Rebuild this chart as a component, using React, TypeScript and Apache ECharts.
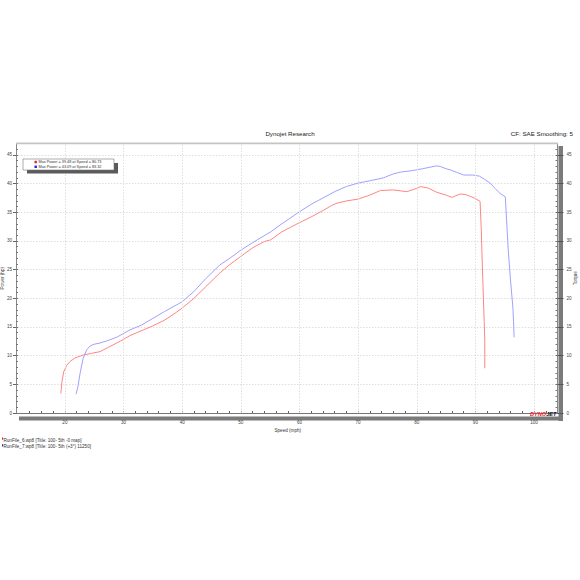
import React, { useEffect, useRef } from "react";
import * as echarts from "echarts";

// ---- Data ----
const redSpeed = [19.3, 19.5, 19.8, 20.3, 20.9, 21.7, 23.1, 24.5, 26.0, 27.5, 29.4, 31.1, 33.4, 35.0, 37.0, 38.5, 40.0, 42.0, 44.0, 46.4, 48.0, 50.0, 52.0, 54.0, 55.1, 57.0, 58.5, 60.0, 62.0, 64.0, 65.5, 66.4, 68.1, 70.0, 72.0, 73.8, 76.0, 78.3, 79.5, 80.7, 82.0, 83.4, 85.0, 86.0, 87.4, 88.3, 89.1, 90.0, 90.8, 91.0, 91.1, 91.3, 91.5, 91.6, 91.6];
const redPower = [3.4, 5.5, 7.2, 8.3, 9.0, 9.6, 10.1, 10.4, 10.7, 11.5, 12.5, 13.5, 14.5, 15.2, 16.2, 17.2, 18.3, 20.0, 22.0, 24.4, 25.8, 27.3, 28.8, 29.9, 30.2, 31.6, 32.4, 33.2, 34.2, 35.3, 36.2, 36.6, 37.0, 37.3, 38.0, 38.8, 38.9, 38.6, 39.0, 39.48, 39.2, 38.5, 38.0, 37.6, 38.2, 38.1, 37.8, 37.4, 36.9, 32.0, 28.4, 22.0, 16.0, 12.7, 7.8];

const blueSpeed = [21.9, 22.2, 22.6, 23.1, 23.7, 24.3, 25.0, 26.0, 27.5, 29.0, 31.1, 33.0, 35.0, 37.0, 40.0, 42.0, 44.0, 46.4, 48.0, 50.0, 52.0, 55.1, 57.0, 60.0, 62.0, 64.0, 66.0, 68.0, 70.0, 72.0, 74.3, 76.0, 77.2, 79.4, 81.0, 83.3, 84.0, 85.0, 85.7, 87.0, 88.0, 89.5, 90.7, 91.5, 92.5, 93.5, 94.2, 95.1, 95.3, 95.6, 96.0, 96.4, 96.5, 96.6];
const bluePower = [3.3, 4.5, 7.0, 9.5, 11.0, 11.7, 12.0, 12.2, 12.7, 13.3, 14.5, 15.3, 16.5, 17.7, 19.4, 21.2, 23.4, 25.8, 26.9, 28.4, 29.7, 31.6, 33.0, 35.1, 36.4, 37.5, 38.6, 39.5, 40.1, 40.5, 41.0, 41.7, 42.0, 42.3, 42.6, 43.09, 43.0, 42.6, 42.4, 41.9, 41.5, 41.5, 41.3, 40.8, 40.1, 39.0, 38.3, 37.7, 34.0, 28.4, 23.0, 18.3, 16.0, 13.2];

const xGridValues = [20, 30, 40, 50, 60, 70, 80, 90, 100];
const legendTexts = ["Max Power = 39.48 at Speed = 80.73", "Max Power = 43.09 at Speed = 83.32"];
const runFiles = ["RunFile_6.wp8 [Title: 100- 5th -0 map]", "RunFile_7.wp8 [Title: 100- 5th (+3°) 11250]"];
const titleText = "Dynojet Research";
const cfText = "CF: SAE Smoothing: 5";

const FONT = "Liberation Sans, Arial, sans-serif";
const RED = "#ff8585";
const BLUE = "#a0a0ff";
const GRID = "#dedede";

function buildOption() {
  const red = redSpeed.map((s, i) => [s, redPower[i]]);
  const blue = blueSpeed.map((s, i) => [s, bluePower[i]]);
  const yCommon = { type: "value", min: 0, max: 47 };
  return {
    animation: false,
    backgroundColor: "#ffffff",
    grid: { left: 18, right: 22.5, top: 143.5, bottom: 167, containLabel: false, outerBoundsMode: "none" },
    xAxis: {
      type: "value",
      min: 12,
      max: 104,
      interval: 2,
      offset: 2,
      name: "Speed (mph)",
      nameLocation: "middle",
      nameGap: 13,
      nameMoveOverlap: false,
      nameTextStyle: { fontSize: 4.6, color: "#333", fontFamily: FONT },
      axisLine: { show: true, lineStyle: { color: "#777", width: 1 } },
      axisTick: { show: true, inside: true, length: 2, lineStyle: { color: "#666" } },
      axisLabel: {
        fontSize: 4.6,
        color: "#444",
        fontFamily: FONT,
        margin: 5,
        showMinLabel: false,
        showMaxLabel: false,
        formatter: (v: number) => (v % 10 === 0 ? String(v) : ""),
      },
      splitLine: { show: false },
    },
    yAxis: [
      {
        ...yCommon,
        position: "left",
        interval: 5,
        offset: 2,
        name: "Power (hp)",
        nameLocation: "middle",
        nameGap: 11,
        nameMoveOverlap: false,
        nameTextStyle: { fontSize: 4.6, color: "#333", fontFamily: FONT },
        axisLine: { show: true, lineStyle: { color: "#888", width: 1 } },
        axisTick: { show: true, length: 3, lineStyle: { color: "#666" } },
        axisLabel: { fontSize: 4.6, color: "#444", fontFamily: FONT, margin: 4, showMaxLabel: false },
        splitLine: { show: true, lineStyle: { type: [1.5, 1.5], color: GRID, width: 1 } },
      },
      {
        ...yCommon,
        position: "right",
        interval: 5,
        name: "Torque",
        nameLocation: "middle",
        nameGap: 15.5,
        nameMoveOverlap: false,
        nameTextStyle: { fontSize: 4.6, color: "#333", fontFamily: FONT },
        axisLine: { show: true, lineStyle: { color: "#888", width: 1 } },
        axisTick: { show: true, length: 6, lineStyle: { color: "#555" } },
        axisLabel: { fontSize: 4.6, color: "#444", fontFamily: FONT, margin: 9, showMaxLabel: false },
        splitLine: { show: false },
      },
      {
        ...yCommon,
        position: "left",
        interval: 1,
        offset: 2,
        axisLine: { show: false },
        axisTick: { show: true, inside: true, length: 2, lineStyle: { color: "#777" } },
        axisLabel: { show: false },
        splitLine: { show: false },
      },
      {
        ...yCommon,
        position: "right",
        interval: 1,
        axisLine: { show: false },
        axisTick: { show: true, inside: true, length: 2, lineStyle: { color: "#777" } },
        axisLabel: { show: false },
        splitLine: { show: false },
      },
    ],
    series: [
      {
        type: "line",
        yAxisIndex: 0,
        data: [[20, 0]],
        symbol: "none",
        lineStyle: { width: 0, opacity: 0 },
        silent: true,
        z: 1,
        markLine: {
          silent: true,
          symbol: ["none", "none"],
          label: { show: false },
          lineStyle: { type: [1.5, 1.5], color: GRID, width: 1 },
          data: xGridValues.map((v) => ({ xAxis: v })),
        },
      },
      {
        type: "line",
        name: "RunFile_6",
        yAxisIndex: 0,
        data: red,
        symbol: "none",
        lineStyle: { color: RED, width: 1 },
        z: 3,
      },
      {
        type: "line",
        name: "RunFile_7",
        yAxisIndex: 0,
        data: blue,
        symbol: "none",
        lineStyle: { color: BLUE, width: 1 },
        z: 3,
      },
    ],
    graphic: [
      // top border
      { type: "rect", z: 5, shape: { x: 16, y: 142.6, width: 542, height: 1.6 }, style: { fill: "#c4c4c4" } },
      // right gray bar
      { type: "rect", z: 0, shape: { x: 558.5, y: 146, width: 4.5, height: 275 }, style: { fill: "#7b7b7b" } },
      // bottom gray bar
      { type: "rect", z: 0, shape: { x: 19, y: 416.6, width: 544, height: 4 }, style: { fill: "#7b7b7b" } },
      // title texts
      { type: "text", x: 290, y: 133, style: { text: titleText, fontSize: 6.2, fill: "#222", fontFamily: FONT, align: "center", verticalAlign: "middle" } },
      { type: "text", x: 573, y: 133, style: { text: cfText, fontSize: 6.2, fill: "#222", fontFamily: FONT, align: "right", verticalAlign: "middle" } },
      // legend box
      { type: "rect", z: 6, shape: { x: 27, y: 163, width: 91, height: 10.5 }, style: { fill: "#5a5a5a" } },
      { type: "rect", z: 7, shape: { x: 23, y: 159, width: 91, height: 11 }, style: { fill: "#ffffff", stroke: "#777", lineWidth: 0.6 } },
      { type: "rect", z: 8, shape: { x: 34.5, y: 160.8, width: 2.4, height: 2.4 }, style: { fill: "#e8202a" } },
      { type: "rect", z: 8, shape: { x: 34.5, y: 165.6, width: 2.4, height: 2.4 }, style: { fill: "#2020e0" } },
      { type: "text", z: 8, x: 38.5, y: 162, style: { text: legendTexts[0], fontSize: 3.8, fill: "#333", fontFamily: FONT, verticalAlign: "middle" } },
      { type: "text", z: 8, x: 38.5, y: 166.8, style: { text: legendTexts[1], fontSize: 3.8, fill: "#333", fontFamily: FONT, verticalAlign: "middle" } },
      // logo
      {
        type: "text",
        z: 9,
        x: 530,
        y: 413.5,
        style: {
          text: "{r|DYNO}{k|JET}",
          verticalAlign: "middle",
          rich: {
            r: { fontSize: 5.6, fontWeight: "bold", fontStyle: "italic", fill: "#e8202a", fontFamily: FONT },
            k: { fontSize: 5.6, fontWeight: "bold", fontStyle: "italic", fill: "#111", fontFamily: FONT },
          },
        },
      },
      // run files
      { type: "rect", shape: { x: 2, y: 437.5, width: 1.2, height: 2.2 }, style: { fill: "#e8202a" } },
      { type: "rect", shape: { x: 2, y: 444.2, width: 1.2, height: 2.2 }, style: { fill: "#2020e0" } },
      { type: "text", x: 3.5, y: 440, style: { text: runFiles[0], fontSize: 4.6, fill: "#333", fontFamily: FONT, verticalAlign: "middle" } },
      { type: "text", x: 3.5, y: 446.7, style: { text: runFiles[1], fontSize: 4.6, fill: "#333", fontFamily: FONT, verticalAlign: "middle" } },
    ],
  };
}

export default function App() {
  const ref = useRef<HTMLDivElement>(null);
  useEffect(() => {
    if (!ref.current) return;
    const chart = echarts.init(ref.current, null, { renderer: "svg" });
    chart.setOption(buildOption() as any);
    return () => chart.dispose();
  }, []);
  return (
    <div
      ref={ref}
      style={{ position: "fixed", left: 0, top: 0, width: 580, height: 580, background: "#fff" }}
    />
  );
}
